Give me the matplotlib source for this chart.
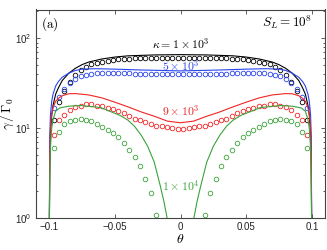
import numpy as np
import matplotlib.pyplot as plt
from matplotlib.ticker import LogLocator, NullFormatter, FixedLocator, FixedFormatter

# ---- data ----
# solid lines (theory)
theta_k1 = [-0.0999, -0.0995, -0.099, -0.098, -0.097, -0.095, -0.093, -0.09, -0.085, -0.08,
            -0.075, -0.07, -0.06, -0.05, -0.04, -0.02, 0.0, 0.02, 0.04, 0.05, 0.06, 0.07,
            0.075, 0.08, 0.085, 0.09, 0.093, 0.095, 0.097, 0.098, 0.099, 0.0995, 0.0999]
gamma_k1 = [0.5, 4, 9, 14, 18, 24, 28, 34, 41, 46.5, 51, 54.5, 59, 62, 64, 65.5, 66, 65.5, 64,
            62, 59, 54.5, 51, 46.5, 41, 34, 28, 24, 18, 14, 9, 4, 0.5]

theta_k5 = [-0.0999, -0.0995, -0.099, -0.098, -0.097, -0.095, -0.093, -0.09, -0.085, -0.08,
            -0.075, -0.065, -0.05, -0.03, 0.0, 0.03, 0.05, 0.065, 0.075, 0.08, 0.085, 0.09,
            0.093, 0.095, 0.097, 0.098, 0.099, 0.0995, 0.0999]
gamma_k5 = [0.5, 8, 14, 20, 24, 29.5, 33, 37, 41, 44, 45.5, 46, 45.5, 44.5, 43.5, 44.5, 45.5,
            46, 45.5, 44, 41, 37, 33, 29.5, 24, 20, 14, 8, 0.5]

theta_k9 = [-0.0999, -0.0995, -0.099, -0.098, -0.097, -0.095, -0.093, -0.09, -0.085, -0.08,
            -0.07, -0.06, -0.05, -0.04, -0.03, -0.02, -0.01, 0.0, 0.01, 0.02, 0.03, 0.04,
            0.05, 0.06, 0.07, 0.08, 0.085, 0.09, 0.093, 0.095, 0.097, 0.098, 0.099, 0.0995,
            0.0999]
gamma_k9 = [0.5, 5, 10, 14.5, 17, 20, 21.5, 23, 24.2, 24.3, 23.5, 21.8, 19.5, 17.3, 15.2,
            13.6, 12.0, 11.5, 12.0, 13.6, 15.2, 17.3, 19.5, 21.8, 23.5, 24.3, 24.2, 23, 21.5,
            20, 17, 14.5, 10, 5, 0.5]

theta_k10 = [-0.0999, -0.0995, -0.099, -0.098, -0.097, -0.095, -0.092, -0.085, -0.076, -0.061,
             -0.046, -0.04, -0.035, -0.03, -0.025, -0.02, -0.0153, -0.0125, -0.0102, -0.0095,
             0.0,
             0.0095, 0.0102, 0.0125, 0.0153, 0.02, 0.025, 0.03, 0.035, 0.04, 0.046, 0.061,
             0.076, 0.085, 0.092, 0.095, 0.097, 0.098, 0.099, 0.0995, 0.0999]
gamma_k10 = [0.5, 3, 6, 10, 12.5, 15.5, 16.8, 17.6, 17.9, 17, 13.9, 12.3, 10.5, 8.4, 6.3, 4.2,
             2.25, 1.5, 1.0, 0.6,
             np.nan,
             0.6, 1.0, 1.5, 2.25, 4.2, 6.3, 8.4, 10.5, 12.3, 13.9, 17, 17.9, 17.6, 16.8, 15.5,
             12.5, 10, 6, 3, 0.5]

# circles (simulation), sampled on a uniform theta grid
theta_pts = np.linspace(-0.0965, 0.0965, 48)
pts_k1 = [12.2, 19.5, 26, 33, 39, 44.5, 48.5, 51.5, 53.8, 55.3, 56.5, 57.5, 58.3, 58.9, 59.4,
          59.8, 60.1, 60.3, 60.5, 60.6, 60.7, 60.8, 60.8, 60.8,
          60.8, 60.8, 60.8, 60.7, 60.6, 60.5, 60.3, 60.1, 59.8, 59.4, 58.9, 58.3, 57.5, 56.5,
          55.3, 53.8, 51.5, 48.5, 44.5, 39, 33, 26, 19.5, 12.2]
pts_k5 = [16.6, 22, 27, 31.5, 35, 37.7, 39.2, 40.3, 40.8, 41.2, 41.3, 41.3, 41.2, 41, 40.8,
          40.6, 40.5, 40.4, 40.3, 40.3, 40.3, 40.3, 40.3, 40.3,
          40.3, 40.3, 40.3, 40.3, 40.3, 40.3, 40.4, 40.5, 40.6, 40.8, 41, 41.2, 41.3, 41.3,
          41.2, 40.8, 40.3, 39.2, 37.7, 35, 31.5, 27, 22, 16.6]
pts_k9 = [8.3, 12.4, 13.9, 15.8, 17.1, 17.9, 18.4, 18.4, 17.9, 17.5, 17.0, 16.4, 15.5, 14.6,
          13.7, 12.8, 12.2, 11.6, 11.1, 10.7, 10.5, 10.2, 10.05, 9.9,
          9.9, 10.05, 10.2, 10.5, 10.7, 11.1, 11.6, 12.2, 12.8, 13.7, 14.6, 15.5, 16.4, 17.0,
          17.5, 17.9, 18.4, 18.4, 17.9, 17.1, 15.8, 13.9, 12.4, 8.3]
pts_k10 = [6.05, 9.0, 11, 12, 12.5, 12.6, 12.4, 12.0, 11.2, 10.4, 9.6, 8.8, 7.9, 6.8, 5.75,
           4.75, 3.75, 2.73, 1.89, 1.07, np.nan, np.nan, np.nan, np.nan,
           np.nan, np.nan, np.nan, np.nan, 1.07, 1.89, 2.73, 3.75, 4.75, 5.75, 6.8, 7.9, 8.8,
           9.6, 10.4, 11.2, 12.0, 12.4, 12.6, 12.5, 12, 11, 9.0, 6.05]

colors = {'k1': 'black', 'k5': '#2a45ee', 'k9': '#f02424', 'k10': '#3aa33a'}

# ---- plotting ----
plt.rcParams['font.family'] = ['Liberation Sans', 'DejaVu Sans']
plt.rcParams['mathtext.fontset'] = 'custom'
plt.rcParams['mathtext.rm'] = 'Liberation Sans'
plt.rcParams['mathtext.it'] = 'Liberation Sans:italic'

fig = plt.figure(figsize=(3.27, 2.5), dpi=100)
ax = fig.add_axes([0.110, 0.128, 0.884, 0.834])

lw = 0.8
ms = 3.3
mew = 0.6
series = [
    (theta_k1, gamma_k1, pts_k1, colors['k1']),
    (theta_k5, gamma_k5, pts_k5, colors['k5']),
    (theta_k9, gamma_k9, pts_k9, colors['k9']),
    (theta_k10, gamma_k10, pts_k10, colors['k10']),
]
for th, g, p, c in series:
    ax.plot(th, g, '-', color=c, lw=lw)
    ax.plot(theta_pts, p, 'o', mfc='none', mec=c, ms=ms, mew=mew)

ax.set_yscale('log')
ax.set_xlim(-0.11, 0.11)
ax.set_ylim(1, 210)

ax.xaxis.set_major_locator(FixedLocator([-0.1, -0.05, 0, 0.05, 0.1]))
ax.xaxis.set_major_formatter(FixedFormatter(['\u22120.1', '\u22120.05', '0', '0.05', '0.1']))
ax.yaxis.set_major_locator(LogLocator(base=10, numticks=5))
ax.yaxis.set_minor_locator(LogLocator(base=10, subs=np.arange(2, 10), numticks=20))
ax.yaxis.set_minor_formatter(NullFormatter())

frame = '#444444'
for s in ax.spines.values():
    s.set_color(frame)
    s.set_linewidth(0.8)
ax.tick_params(which='both', direction='in', top=True, right=True, colors=frame,
               labelcolor='#222222', labelsize=7, width=0.6)
ax.tick_params(which='major', length=3, pad=3)
ax.tick_params(which='minor', length=1.6)

ax.set_xlabel(r'$\theta$', fontsize=10, math_fontfamily='cm', labelpad=0)
ax.set_ylabel(r'$\gamma\,/\,\Gamma_0$', fontsize=9.5, math_fontfamily='cm', va='center')
ax.yaxis.set_label_coords(-0.098, 0.5)

ax.text(0.047, 0.928, r'$(\mathrm{a})$', transform=ax.transAxes, fontsize=9.5,
        ha='center', va='center', math_fontfamily='cm')
ax.text(0.868, 0.938, r'$S_L = 10^8$', transform=ax.transAxes, fontsize=9.5,
        ha='center', va='center', math_fontfamily='cm')

lab_fs = 8.5
ax.text(0.0, 86, r'$\mathbf{\kappa} = 1 \times 10^3$', fontsize=lab_fs, ha='center',
        va='center', color=colors['k1'], math_fontfamily='cm')
ax.text(0.0, 48.7, r'$5 \times 10^3$', fontsize=lab_fs, ha='center', va='center',
        color=colors['k5'], math_fontfamily='cm')
ax.text(0.0, 15.4, r'$9 \times 10^3$', fontsize=lab_fs, ha='center', va='center',
        color=colors['k9'], math_fontfamily='cm')
ax.text(0.0, 2.24, r'$1 \times 10^4$', fontsize=lab_fs, ha='center', va='center',
        color=colors['k10'], math_fontfamily='cm')

fig.savefig('out.png', dpi=100)
